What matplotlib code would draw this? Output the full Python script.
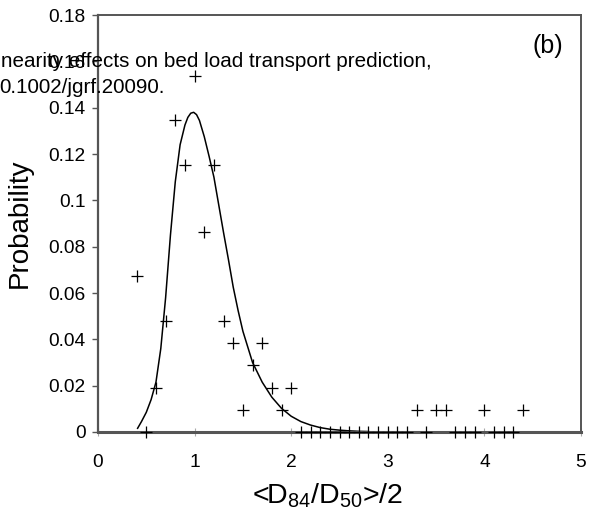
import numpy as np
import matplotlib
matplotlib.use('Agg')
import matplotlib.pyplot as plt

# Observed probabilities per 0.1 class of <D84/D50>/2
x_obs = [0.4, 0.5, 0.6, 0.7, 0.8, 0.9, 1.0, 1.1, 1.2, 1.3, 1.4, 1.5, 1.6, 1.7,
         1.8, 1.9, 2.0, 2.1, 2.2, 2.3, 2.4, 2.5, 2.6, 2.7, 2.8, 2.9, 3.0, 3.1,
         3.2, 3.3, 3.4, 3.5, 3.6, 3.7, 3.8, 3.9, 4.0, 4.1, 4.2, 4.3, 4.4]
p_obs = [0.0673, 0.0, 0.0192, 0.0481, 0.1346, 0.1154, 0.1538, 0.0865, 0.1154,
         0.0481, 0.0385, 0.0096, 0.0288, 0.0385, 0.0192, 0.0096, 0.0192,
         0.0, 0.0, 0.0, 0.0, 0.0, 0.0, 0.0, 0.0, 0.0, 0.0, 0.0, 0.0,
         0.0096, 0.0, 0.0096, 0.0096, 0.0, 0.0, 0.0, 0.0096, 0.0, 0.0, 0.0,
         0.0096]

# Fitted distribution
x_fit = [0.41, 0.45, 0.50, 0.55, 0.60, 0.65, 0.70, 0.75, 0.80, 0.85, 0.90,
         0.93, 0.96, 0.99, 1.02, 1.05, 1.10, 1.15, 1.20, 1.25, 1.30, 1.35,
         1.40, 1.45, 1.50, 1.60, 1.70, 1.80, 1.90, 2.00, 2.10, 2.20, 2.30,
         2.40, 2.50, 2.60, 2.70, 2.80]
p_fit = [0.0016, 0.0045, 0.0085, 0.0140, 0.0215, 0.0360, 0.0580, 0.0850,
         0.1080, 0.1240, 0.1325, 0.1358, 0.1376, 0.1380, 0.1370, 0.1345,
         0.1275, 0.1190, 0.1100, 0.0980, 0.0860, 0.0745, 0.0625, 0.0525,
         0.0435, 0.0300, 0.0215, 0.0150, 0.0102, 0.0068, 0.0045, 0.0030,
         0.0019, 0.0012, 0.0008, 0.0005, 0.0003, 0.0002]

x_ticks = [0, 1, 2, 3, 4, 5]
y_ticks = [0, 0.02, 0.04, 0.06, 0.08, 0.1, 0.12, 0.14, 0.16, 0.18]

plt.rcParams['font.family'] = ['Liberation Sans', 'DejaVu Sans']
plt.rcParams['mathtext.default'] = 'regular'

fig = plt.figure(figsize=(5.91, 5.17), dpi=100)
ax = fig.add_axes([98 / 591, 85 / 517, 483 / 591, 417 / 517])

ax.plot(x_fit, p_fit, color='black', lw=1.1, zorder=2)
ax.plot(x_obs, p_obs, linestyle='none', marker='+', ms=8.5, mew=0.9,
        color='black', clip_on=False, zorder=3)

ax.set_xlim(0, 5)
ax.set_ylim(0, 0.18)
ax.set_xticks(x_ticks)
ax.set_yticks(y_ticks)
ax.set_xticklabels([str(v) for v in x_ticks])
ax.set_yticklabels([f'{v:g}' for v in y_ticks])
ax.tick_params(labelsize=13.8)
ax.tick_params(axis='y', direction='out', length=4, width=1,
               color='#555555', pad=5)
ax.tick_params(axis='x', direction='inout', length=6, width=0.8,
               color='#aaaaaa', pad=13)
for s in ax.spines.values():
    s.set_color('#555555')
    s.set_linewidth(1.4)
ax.spines['left'].set_linewidth(1.6)
ax.spines['bottom'].set_linewidth(2.2)

ax.set_ylabel('Probability', fontsize=20)
ax.yaxis.set_label_coords(-0.135, 0.5)
ax.set_xlabel('<D$_{84}$/D$_{50}$>/2', fontsize=20.5)
ax.xaxis.set_label_coords(0.476, -0.118)

ax.text(0.932, 0.925, '(b)', transform=ax.transAxes, fontsize=18,
        ha='center', va='center')

# Text line running across the top of the panel
fig.text(432 / 591, 1 - 67 / 517,
         'nearity effects on bed load transport prediction,',
         fontsize=14.9, ha='right', va='baseline')
fig.text(165 / 591, 1 - 93 / 517, '0.1002/jgrf.20090.',
         fontsize=14.9, ha='right', va='baseline')

fig.savefig('out.png', dpi=100)
